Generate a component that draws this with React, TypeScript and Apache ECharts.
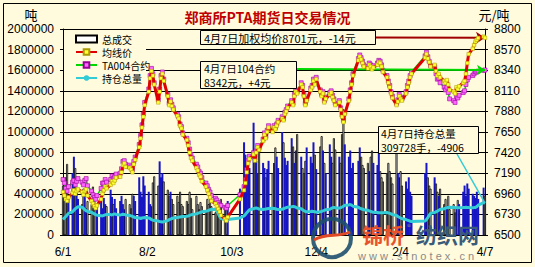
import React, { useEffect, useRef } from 'react';
import * as echarts from 'echarts';

// ---------- axes ----------
const xTickLabels = ['6/1', '8/2', '10/3', '12/4', '2/4', '4/7'];
const X_SPAN_DAYS = 310; // 2009-06-01 .. 2010-04-07 (calendar days)
const X_TICK_STEP = 62;
// calendar-day offsets (from 2009-06-01, a Monday) of exchange holidays on weekdays
const holidayOffsets = [122, 123, 126, 127, 128, 129, 214, 259, 260, 261, 262, 263, 308];
const rightTicks = [6500, 6730, 6960, 7190, 7420, 7650, 7880, 8110, 8340, 8570, 8800];

// ---------- series (one value per trading day, Jun 2009 .. Apr 7 2010) ----------
const volume = [
  // Jun
  480000, 420000, 560000, 690000, 380000, 600000, 760000, 650000, 420000, 350000, 300000, 450000, 380000, 260000, 330000, 300000, 470000, 350000, 280000, 300000, 380000, 260000,
  // Jul
  360000, 300000, 280000, 440000, 370000, 300000, 350000, 260000, 330000, 380000, 300000, 250000, 350000, 300000, 260000, 400000, 380000, 330000, 560000, 420000, 370000, 570000, 480000,
  // Aug
  420000, 300000, 280000, 510000, 570000, 480000, 715000, 560000, 600000, 520000, 440000, 380000, 420000, 350000, 300000, 380000, 320000, 420000, 300000, 280000, 330000,
  // Sep
  300000, 420000, 360000, 250000, 380000, 300000, 250000, 320000, 280000, 230000, 350000, 300000, 400000, 280000, 220000, 300000, 260000, 310000, 350000, 290000, 250000, 330000,
  // Oct
  450000, 900000, 780000, 600000, 700000, 650000, 1090000, 800000, 720000, 600000, 850000, 700000, 650000, 560000, 640000, 720000,
  // Nov
  600000, 700000, 850000, 760000, 650000, 1000000, 900000, 750000, 680000, 720000, 940000, 860000, 700000, 820000, 980000, 760000, 650000, 600000, 720000, 850000, 760000,
  // Dec
  700000, 900000, 780000, 640000, 860000, 960000, 820000, 700000, 600000, 880000, 760000, 700000, 940000, 830000, 760000, 700000, 980000, 1220000, 880000, 760000, 820000, 650000, 700000,
  // Jan
  720000, 850000, 760000, 680000, 650000, 700000, 620000, 760000, 820000, 700000, 680000, 800000, 620000, 560000, 520000, 600000, 700000, 620000, 560000, 500000,
  // Feb
  800000, 600000, 560000, 620000, 480000, 520000, 450000, 560000, 420000, 380000, 600000, 700000, 560000, 480000, 450000,
  // Mar
  560000, 500000, 420000, 380000, 450000, 300000, 350000, 280000, 380000, 250000, 300000, 220000, 260000, 340000, 300000, 420000, 480000, 380000, 500000, 450000, 400000, 380000, 360000,
  // Apr
  420000, 350000, 460000, 380000,
];

const openInterest = [
  // Jun
  150000, 165000, 180000, 195000, 210000, 225000, 240000, 255000, 265000, 275000, 270000, 258000, 245000, 235000, 228000, 220000, 212000, 205000, 198000, 192000, 188000, 185000,
  // Jul
  190000, 195000, 200000, 198000, 195000, 200000, 205000, 200000, 195000, 198000, 202000, 200000, 195000, 190000, 185000, 180000, 175000, 170000, 165000, 160000, 165000, 168000, 170000,
  // Aug
  165000, 160000, 150000, 145000, 140000, 135000, 130000, 128000, 125000, 130000, 140000, 150000, 155000, 160000, 165000, 170000, 172000, 175000, 178000, 180000, 182000,
  // Sep
  185000, 190000, 195000, 200000, 205000, 210000, 215000, 220000, 225000, 230000, 235000, 240000, 245000, 248000, 250000, 235000, 210000, 180000, 160000, 150000, 148000, 150000,
  // Oct
  165000, 185000, 200000, 215000, 230000, 245000, 255000, 260000, 262000, 258000, 252000, 248000, 250000, 252000, 255000, 258000,
  // Nov
  260000, 258000, 255000, 250000, 248000, 250000, 255000, 260000, 265000, 270000, 275000, 278000, 275000, 270000, 262000, 255000, 245000, 235000, 228000, 225000, 228000,
  // Dec
  230000, 228000, 225000, 222000, 225000, 230000, 235000, 240000, 245000, 250000, 258000, 265000, 268000, 265000, 260000, 265000, 272000, 280000, 288000, 292000, 296000, 290000, 280000,
  // Jan
  270000, 260000, 255000, 250000, 245000, 240000, 235000, 230000, 225000, 220000, 218000, 216000, 215000, 215000, 216000, 218000, 215000, 210000, 205000, 198000,
  // Feb
  190000, 180000, 172000, 165000, 158000, 150000, 145000, 140000, 135000, 130000, 135000, 150000, 170000, 190000, 210000,
  // Mar
  218000, 225000, 232000, 240000, 248000, 255000, 260000, 265000, 268000, 270000, 268000, 266000, 265000, 264000, 265000, 266000, 268000, 270000, 268000, 266000, 265000, 266000, 268000,
  // Apr
  275000, 290000, 314634, 309728,
];

const avgPrice = [
  // Jun
  6980, 6940, 6900, 6880, 6920, 6970, 7000, 6960, 6990, 7010, 6980, 6950, 6990, 7010, 6940, 6880, 6850, 6820, 6800, 6830, 6900, 6960,
  // Jul
  7000, 7040, 7020, 7060, 7100, 7080, 7110, 7140, 7150, 7200, 7280, 7300, 7260, 7250, 7230, 7200, 7290, 7340, 7480, 7580, 7700, 7820, 7950,
  // Aug
  8100, 8250, 8330, 8280, 8180, 7980, 8100, 8250, 8300, 8220, 8050, 7950, 7990, 7940, 7900, 7830, 7800, 7720, 7690, 7620, 7560,
  // Sep
  7500, 7420, 7360, 7330, 7250, 7220, 7170, 7150, 7100, 7040, 7000, 6960, 6920, 6880, 6850, 6820, 6790, 6760, 6720, 6680, 6660, 6700,
  // Oct
  6900, 7000, 7080, 7200, 7300, 7350, 7400, 7330, 7420, 7480, 7450, 7550, 7620, 7580, 7650, 7700,
  // Nov
  7650, 7700, 7680, 7720, 7760, 7800, 7780, 7850, 7880, 7920, 7980, 7950, 8050, 8100, 8080, 8180, 8150, 8050, 7950, 8000, 8120,
  // Dec
  8150, 8220, 8180, 8240, 8100, 8050, 8080, 7980, 8020, 8070, 8090, 8040, 8000, 7950, 7980, 7900, 7820, 7760, 7850, 8000, 8100, 8180, 8280,
  // Jan
  8450, 8490, 8460, 8420, 8380, 8360, 8400, 8380, 8350, 8370, 8400, 8430, 8420, 8380, 8320, 8260, 8200, 8150, 8080, 8030,
  // Feb
  7950, 7990, 8050, 8020, 8000, 8080, 8150, 8200, 8260, 8300, 8480, 8520, 8470, 8430, 8380,
  // Mar
  8400, 8330, 8280, 8300, 8260, 8220, 8200, 8230, 8180, 8120, 8100, 8080, 8150, 8130, 8160, 8200, 8220, 8300, 8420, 8520, 8580, 8620, 8660,
  // Apr
  8680, 8700, 8715, 8701,
];

const ta004Price = [
  // Jun
  7120, 7080, 7020, 6990, 7040, 7090, 7110, 7060, 7100, 7130, 7090, 7060, 7110, 7130, 7050, 6990, 6950, 6920, 6900, 6940, 7020, 7080,
  // Jul
  7080, 7120, 7090, 7120, 7160, 7130, 7150, 7180, 7190, 7240, 7320, 7330, 7290, 7280, 7260, 7230, 7320, 7370, 7510, 7610, 7730, 7850, 7980,
  // Aug
  8130, 8280, 8360, 8300, 8200, 8010, 8130, 8280, 8320, 8240, 8070, 7970, 8010, 7960, 7920, 7850, 7820, 7740, 7710, 7640, 7580,
  // Sep
  7530, 7460, 7400, 7360, 7290, 7260, 7210, 7190, 7140, 7080, 7050, 7010, 6980, 6940, 6910, 6890, 6860, 6840, 6830, 6810, 6800, 6830,
  // Oct
  6950, 7040, 7120, 7230, 7330, 7380, 7420, 7360, 7440, 7500, 7470, 7570, 7640, 7600, 7670, 7720,
  // Nov
  7670, 7720, 7700, 7740, 7780, 7820, 7800, 7870, 7900, 7940, 8000, 7970, 8070, 8120, 8100, 8200, 8170, 8070, 7970, 8020, 8140,
  // Dec
  8170, 8240, 8200, 8260, 8120, 8070, 8100, 8000, 8040, 8090, 8110, 8060, 8020, 7970, 8000, 7920, 7840, 7780, 7870, 8020, 8120, 8200, 8300,
  // Jan
  8470, 8510, 8480, 8440, 8400, 8380, 8420, 8400, 8370, 8390, 8420, 8450, 8440, 8400, 8340, 8280, 8220, 8170, 8100, 8050,
  // Feb
  7970, 8010, 8070, 8040, 8020, 8100, 8170, 8220, 8280, 8320, 8500, 8540, 8490, 8440, 8390,
  // Mar
  8380, 8300, 8240, 8250, 8200, 8150, 8120, 8150, 8090, 8020, 8000, 7980, 8050, 8030, 8060, 8090, 8110, 8180, 8230, 8260, 8280, 8300, 8320,
  // Apr
  8320, 8330, 8338, 8342,
];

// ---------- styling ----------
const BG = '#FFFBDC';
const NUM_FONT = '"Liberation Sans", Arial, "Noto Sans CJK SC", sans-serif';
const CJK_FONT = '"Noto Sans CJK SC", "Liberation Sans", sans-serif';
const BLUE = '#1616C4';

function tradingDayOffsets(): number[] {
  const out: number[] = [];
  for (let d = 0; d <= X_SPAN_DAYS; d++) {
    const dow = d % 7; // 0 = Monday
    if (dow >= 5) continue;
    if (holidayOffsets.indexOf(d) >= 0) continue;
    out.push(d);
  }
  return out;
}

function txt(x: number, y: number, text: string, size: number, extra: any = {}) {
  return {
    type: 'text',
    x,
    y,
    z: extra.z ?? 11,
    silent: true,
    style: {
      text,
      fontSize: size,
      lineHeight: size + 1,
      fontFamily: extra.fontFamily ?? CJK_FONT,
      fontWeight: extra.fontWeight ?? 'normal',
      fill: extra.fill ?? '#000',
      align: extra.align ?? 'left',
      textAlign: extra.align ?? 'left',
      verticalAlign: 'middle',
      textVerticalAlign: 'middle',
      opacity: extra.opacity ?? 1,
    },
  };
}

export default function App() {
  const ref = useRef<HTMLDivElement>(null);

  useEffect(() => {
    if (!ref.current) return;
    const chart = echarts.init(ref.current, undefined, { renderer: 'svg' });
    const days = tradingDayOffsets();

    const barData = volume.map((v, i) => {
      const up = i > 0 && avgPrice[i] >= avgPrice[i - 1];
      return {
        value: [days[i], v],
        itemStyle: up
          ? { color: BLUE, borderColor: BLUE, borderWidth: 0 }
          : { color: '#FFFFFF', borderColor: '#000000', borderWidth: 0.8 },
      };
    });
    const oiData = openInterest.map((v, i) => [days[i], v]);
    const avgData = avgPrice.map((v, i) => [days[i], v]);
    const taData = ta004Price.map((v, i) => [days[i], v]);
    const last = days[days.length - 1];

    const option: any = {
      animation: false,
      backgroundColor: BG,
      textStyle: { fontFamily: NUM_FONT },
      title: {
        text: '郑商所PTA期货日交易情况',
        left: 'center',
        top: 5,
        textStyle: { fontSize: 14, fontWeight: 'bold', color: '#C00000', fontFamily: CJK_FONT },
      },
      legend: {
        left: 70,
        top: 28,
        orient: 'vertical',
        itemWidth: 21,
        itemHeight: 7,
        itemGap: 1,
        selectedMode: false,
        textStyle: { fontSize: 10, color: '#000', fontFamily: CJK_FONT, lineHeight: 12 },
        data: [
          { name: '总成交', icon: 'rect' },
          { name: '均线价' },
          { name: 'TA004合约' },
          { name: '持仓总量' },
        ],
      },
      grid: { left: 63, right: 50, top: 29, bottom: 32 },
      xAxis: {
        type: 'value',
        min: 0,
        max: X_SPAN_DAYS,
        interval: X_TICK_STEP,
        axisLine: { show: true, lineStyle: { color: '#000' } },
        axisTick: { show: false },
        splitLine: { show: false },
        axisLabel: {
          fontSize: 12,
          color: '#000',
          margin: 11,
          formatter: (v: number) => xTickLabels[Math.round(v / X_TICK_STEP)] ?? '',
        },
      },
      yAxis: [
        {
          type: 'value',
          min: 0,
          max: 2000000,
          interval: 200000,
          axisLine: { show: true, lineStyle: { color: '#000' } },
          axisTick: { show: true, length: 3, lineStyle: { color: '#000' } },
          splitLine: { show: true, lineStyle: { color: '#000', width: 1 } },
          axisLabel: { fontSize: 12, color: '#000', margin: 9, formatter: (v: number) => String(v) },
        },
        {
          type: 'value',
          position: 'right',
          min: 6500,
          max: 8800,
          axisLine: { show: true, lineStyle: { color: '#000' } },
          axisTick: { show: true, length: 3, customValues: rightTicks, lineStyle: { color: '#000' } },
          splitLine: { show: false },
          axisLabel: { fontSize: 12, color: '#000', margin: 9, customValues: rightTicks, formatter: (v: number) => String(v) },
        },
      ],
      series: [
        {
          name: '总成交',
          type: 'bar',
          yAxisIndex: 0,
          barWidth: 2,
          z: 2,
          itemStyle: { color: '#FFFFFF', borderColor: '#000', borderWidth: 0.8 },
          data: barData,
        },
        {
          name: '持仓总量',
          type: 'line',
          yAxisIndex: 0,
          z: 3,
          symbol: 'none',
          lineStyle: { color: '#33CCD6', width: 3 },
          itemStyle: { color: '#33CCD6' },
          data: oiData,
          markLine: {
            silent: true,
            symbol: ['none', 'none'],
            label: { show: false },
            lineStyle: { color: '#33CCD6', width: 1.5, type: 'solid' },
            data: [[{ x: 457, y: 154 }, { coord: [last, openInterest[openInterest.length - 1]] }]],
          },
        },
        {
          name: '均线价',
          type: 'line',
          yAxisIndex: 1,
          z: 5,
          symbol: 'rect',
          symbolSize: 3.5,
          showAllSymbol: true,
          lineStyle: { color: '#E00000', width: 3 },
          itemStyle: { color: '#FFFF33', borderColor: '#A89A00', borderWidth: 0.5 },
          data: avgData,
          markLine: {
            silent: true,
            symbol: ['none', 'arrow'],
            symbolSize: 9,
            label: { show: false },
            lineStyle: { color: '#A00000', width: 2, type: 'solid' },
            data: [[{ x: 375, y: 37.5 }, { coord: [last, avgPrice[avgPrice.length - 1]] }]],
          },
        },
        {
          name: 'TA004合约',
          type: 'line',
          yAxisIndex: 1,
          z: 4,
          symbol: 'rect',
          symbolSize: 4,
          showAllSymbol: true,
          lineStyle: { color: '#00D800', width: 1.5 },
          itemStyle: { color: '#FF66FF', borderColor: '#990099', borderWidth: 0.6 },
          data: taData,
          markLine: {
            silent: true,
            symbol: ['none', 'arrow'],
            symbolSize: 8,
            label: { show: false },
            lineStyle: { color: '#00D800', width: 2, type: 'solid' },
            data: [[{ x: 297, y: 69 }, { coord: [last, ta004Price[ta004Price.length - 1]] }]],
          },
        },
      ],
      graphic: [
        // outer frame
        { type: 'rect', z: 0, silent: true, shape: { x: 3.5, y: 3.5, width: 528, height: 259 }, style: { fill: 'none', stroke: '#000', lineWidth: 1 } },
        // legend background (hides grid lines)
        { type: 'rect', z: 1, silent: true, shape: { x: 64, y: 30, width: 82, height: 58 }, style: { fill: BG } },
        // units
        txt(31, 14, '吨', 13, { z: 11, align: 'center' }),
        txt(494, 14, '元/吨', 13, { align: 'center' }),
        // annotation box 1
        { type: 'rect', z: 10, silent: true, shape: { x: 200.5, y: 30.5, width: 175, height: 14 }, style: { fill: BG, stroke: '#000', lineWidth: 1 } },
        txt(204, 38, '4月7日加权均价8701元，-14元', 11),
        // annotation box 2
        { type: 'rect', z: 10, silent: true, shape: { x: 200.5, y: 61.5, width: 96, height: 27 }, style: { fill: BG, stroke: '#000', lineWidth: 1 } },
        txt(204, 68, '4月7日104合约', 10.5),
        txt(204, 82, '8342元，+4元', 10.5),
        // annotation box 3
        { type: 'rect', z: 10, silent: true, shape: { x: 378.5, y: 126.5, width: 100, height: 27 }, style: { fill: BG, stroke: '#000', lineWidth: 1 } },
        txt(381, 133, '4月7日持仓总量', 10.5),
        txt(381, 147, '309728手，-4906', 10.5),
        // watermark
        { type: 'circle', z: 20, silent: true, shape: { cx: 332, cy: 238, r: 19 }, style: { fill: 'none', stroke: '#1E4F6E', lineWidth: 4, opacity: 0.9 } },
        { type: 'bezierCurve', z: 21, silent: true, shape: { x1: 314, y1: 240, x2: 350, y2: 232, cpx1: 326, cpy1: 232, cpx2: 338, cpy2: 238 }, style: { stroke: '#E04A25', lineWidth: 3, fill: 'none' } },
        txt(362, 234, '锦桥', 21, { z: 21, fontWeight: 'bold', fill: '#E8532B' }),
        txt(407, 226, '®', 8, { z: 21, fill: '#888' }),
        txt(416, 234, '纺织网', 21, { z: 21, fontWeight: 'bold', fill: '#3A5A7A' }),
        txt(358, 256, 'w w w . s i n o t e x . c n', 11, { z: 21, fill: '#8A8A8A', fontFamily: NUM_FONT }),
      ],
    };

    chart.setOption(option);
    return () => chart.dispose();
  }, []);

  return (
    <div
      ref={ref}
      style={{ position: 'fixed', left: 0, top: 0, width: 535, height: 267 }}
    />
  );
}
